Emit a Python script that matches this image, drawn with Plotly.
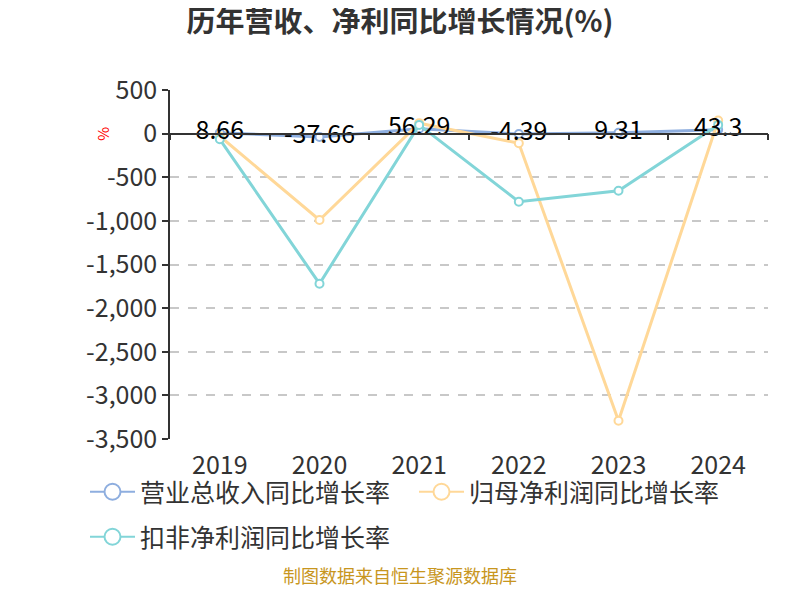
import plotly.graph_objects as go

years = ["2019", "2020", "2021", "2022", "2023", "2024"]
revenue_growth = [8.66, -37.66, 56.29, -4.39, 9.31, 43.3]
parent_profit_growth = [-30, -990, 120, -110, -3290, 150]
deducted_profit_growth = [-65, -1720, 100, -780, -655, 100]

series_names = ["营业总收入同比增长率", "归母净利润同比增长率", "扣非净利润同比增长率"]
colors = ["#8EAEDF", "#FFD898", "#82D5D8"]

y_tickvals = [500, 0, -500, -1000, -1500, -2000, -2500, -3000, -3500]
y_ticktext = ["500", "0", "-500", "-1,000", "-1,500", "-2,000", "-2,500", "-3,000", "-3,500"]

FONT = "Noto Sans CJK SC"
OFF = 8  # page body offset

fig = go.Figure()

for name, vals, col in [
    (series_names[0], revenue_growth, colors[0]),
    (series_names[1], parent_profit_growth, colors[1]),
    (series_names[2], deducted_profit_growth, colors[2]),
]:
    fig.add_trace(go.Scatter(
        x=years, y=vals, mode="lines+markers", name=name, showlegend=False,
        line=dict(color=col, width=3),
        marker=dict(size=8, color="white", line=dict(color=col, width=2)),
        hoverinfo="x+y",
    ))

# data labels of revenue series on top
fig.add_trace(go.Scatter(
    x=years, y=revenue_growth, mode="text",
    text=[f"{v:g}" for v in revenue_growth], textposition="middle center",
    textfont=dict(family=FONT, size=25, color="#000"), showlegend=False,
    hoverinfo="skip",
))

# legend entries
for i, (name, col) in enumerate(zip(series_names, colors)):
    fig.add_trace(go.Scatter(
        x=[None], y=[None], mode="lines+markers", name=name,
        line=dict(color=col, width=2),
        marker=dict(size=18, color="white", line=dict(color=col, width=2)),
        legend="legend" if i < 2 else "legend2",
    ))

fig.update_layout(
    width=800, height=600,
    margin=dict(l=170 - OFF, r=800 - 768 + OFF, t=90 - OFF, b=600 - 439 + OFF, autoexpand=False),
    paper_bgcolor="white", plot_bgcolor="white",
    font=dict(family=FONT, color="#333"),
    title=dict(text="<b>历年营收、净利同比增长情况(%)</b>", x=(400 - OFF) / 800, xref="container",
               y=1 - (22 - OFF) / 600, yref="container", yanchor="middle", xanchor="center",
               font=dict(size=29, color="#333", family=FONT)),
    xaxis=dict(
        type="category", range=[-0.5, 5.5], anchor="free", position=0.875, automargin=False,
        showline=True, linecolor="#333", linewidth=1.5,
        ticks="outside", ticklen=6, tickcolor="#333", tickwidth=1.5,
        tickson="boundaries", showgrid=False, zeroline=False,
        tickfont=dict(size=25, color="#333"),
        ticklabelstandoff=310,
    ),
    yaxis=dict(
        range=[-3500, 500], tickvals=y_tickvals, ticktext=y_ticktext, automargin=False,
        showline=True, linecolor="#333", linewidth=1.5,
        ticks="outside", ticklen=6, tickcolor="#333", tickwidth=1.5,
        showgrid=True, gridcolor="#c8c8c8", griddash="dash", gridwidth=1.5,
        zeroline=False, tickfont=dict(size=25, color="#333"),
    ),
    legend=dict(orientation="h", x=(85 - 170) / 598, y=(439 - 492) / 349, yanchor="middle", xanchor="left",
                font=dict(size=25, color="#333", family=FONT), itemwidth=45,
                entrywidth=269, entrywidthmode="pixels", bgcolor="rgba(0,0,0,0)"),
    legend2=dict(orientation="h", x=(85 - 170) / 598, y=(439 - 537) / 349, yanchor="middle", xanchor="left",
                 font=dict(size=25, color="#333", family=FONT), itemwidth=45,
                 bgcolor="rgba(0,0,0,0)"),
    annotations=[
        dict(text="%", xref="paper", yref="y", x=(103 - 170) / 598, y=0, xanchor="center",
             yanchor="middle", showarrow=False, textangle=-90,
             font=dict(size=15, color="red", family=FONT)),
        dict(text="制图数据来自恒生聚源数据库", xref="paper", yref="paper",
             x=(400 - 170) / 598, y=(439 - 590) / 349, showarrow=False,
             font=dict(size=18, color="#C8961E", family=FONT)),
    ],
)

fig.write_html("out.html")
